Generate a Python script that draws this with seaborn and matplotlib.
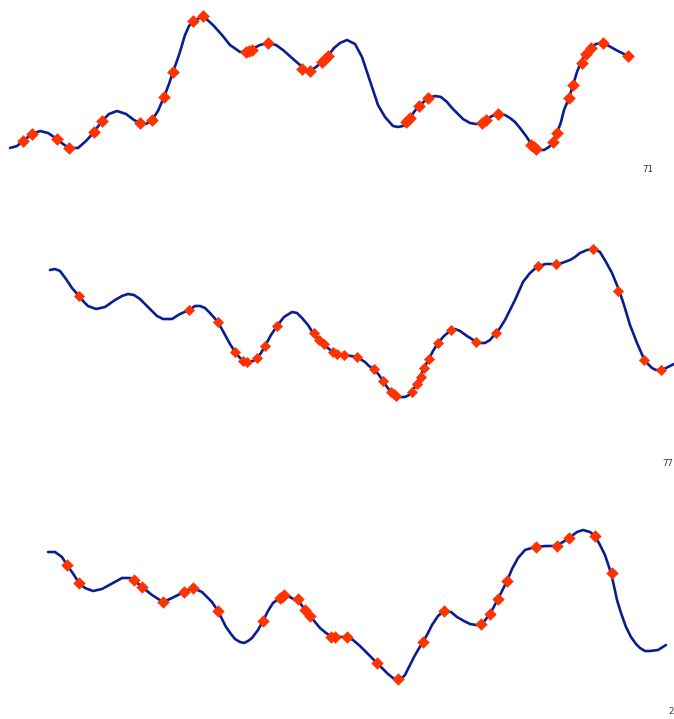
import matplotlib
matplotlib.use("Agg")
import matplotlib.pyplot as plt
import seaborn as sns
import pandas as pd

# three stacked traces (x = horizontal position,
# y = vertical position, both in pixel-like units, y grows downward)

# panel 1 (label 71)
p1_line_x = [10, 17, 23, 32, 40, 48, 57, 63, 69, 78, 86, 94, 102, 109, 117, 126, 134, 140, 146,
             152, 158, 164, 169, 173, 179, 185, 189, 194, 203, 213, 222, 230, 240, 247, 252, 260,
             268, 276, 283, 292, 300, 306, 310, 316, 322, 328, 334, 340, 347, 355, 362, 368, 373,
             378, 385, 393, 398, 403, 407, 410, 414, 419, 428, 435, 441, 447, 452, 457, 463, 470,
             476, 482, 486, 492, 498, 505, 510, 515, 520, 526, 532, 536, 540, 544, 549, 553, 557,
             561, 564, 569, 573, 577, 581, 585, 590, 596, 602, 609, 616, 622, 628]
p1_line_y = [148, 146, 141, 134, 131, 133, 139, 144, 148, 148, 141, 132, 121, 114, 111, 114, 120,
             123, 124, 120, 111, 97, 84, 72, 55, 35, 26, 21, 16, 25, 35, 45, 52, 52, 49, 45, 43, 45,
             50, 58, 65, 70, 71, 67, 62, 56, 48, 43, 40, 44, 57, 75, 90, 105, 117, 126, 127, 126,
             122, 118, 112, 106, 98, 96, 97, 102, 108, 113, 119, 123, 124, 123, 120, 116, 114, 115,
             118, 122, 128, 136, 145, 149, 150, 150, 147, 142, 133, 122, 110, 98, 85, 72, 62, 54,
             48, 44, 43, 46, 50, 53, 56]
p1_mark_x = [23, 32, 57, 69, 94, 102, 140, 152, 164, 173, 193, 203, 246, 249, 252, 268, 302, 310,
             322, 325, 328, 406, 408, 410, 419, 428, 482, 486, 498, 531, 534, 536, 553, 557, 569,
             573, 582, 586, 591, 603, 628]
p1_mark_y = [141, 134, 139, 148, 132, 121, 123, 120, 97, 72, 21, 16, 52, 51, 50, 43, 69, 71, 62,
             59, 56, 122, 120, 118, 106, 98, 123, 120, 114, 145, 147, 149, 142, 133, 98, 85, 63, 54,
             48, 43, 56]

# panel 2 (label 77)
p2_line_x = [50, 55, 60, 66, 72, 79, 84, 88, 96, 105, 115, 122, 128, 134, 140, 146, 152, 157, 163,
             172, 180, 189, 195, 200, 205, 210, 218, 224, 230, 235, 240, 244, 248, 253, 257, 261,
             265, 271, 277, 284, 292, 297, 302, 308, 313, 319, 324, 333, 337, 345, 351, 357, 365,
             369, 374, 379, 383, 387, 391, 396, 400, 405, 409, 412, 416, 420, 424, 429, 433, 438,
             444, 451, 455, 460, 467, 475, 480, 485, 490, 496, 500, 505, 510, 515, 519, 523, 530,
             538, 546, 555, 562, 570, 575, 580, 587, 594, 600, 606, 612, 619, 624, 630, 637, 644,
             648, 652, 656, 660, 664, 668, 674]
p2_line_y = [270, 269, 271, 279, 288, 296, 302, 306, 309, 307, 300, 296, 294, 295, 299, 305, 311,
             316, 319, 319, 314, 310, 306, 306, 308, 313, 322, 333, 344, 352, 358, 361, 362, 361,
             358, 353, 346, 335, 326, 317, 312, 313, 318, 325, 333, 340, 345, 352, 354, 355, 356,
             357, 362, 366, 369, 375, 381, 387, 392, 395, 397, 397, 395, 392, 385, 377, 368, 359,
             351, 343, 336, 330, 329, 331, 336, 341, 343, 343, 340, 333, 328, 320, 310, 300, 291,
             282, 273, 266, 264, 264, 263, 260, 257, 253, 250, 249, 252, 262, 273, 290, 305, 325,
             343, 359, 364, 368, 370, 370, 369, 367, 364]
p2_mark_x = [79, 189, 218, 235, 243, 247, 257, 265, 277, 314, 319, 324, 333, 337, 344, 357, 374,
             383, 391, 394, 396, 412, 417, 421, 424, 429, 438, 451, 476, 496, 538, 556, 593, 618,
             644, 661]
p2_mark_y = [296, 310, 322, 352, 361, 362, 358, 346, 326, 333, 340, 344, 352, 354, 355, 357, 369,
             381, 392, 394, 396, 392, 384, 377, 368, 359, 343, 330, 342, 333, 266, 264, 249, 291,
             360, 370]

# panel 3 (label 2)
p3_line_x = [48, 55, 62, 67, 74, 79, 85, 93, 102, 113, 122, 130, 134, 142, 152, 163, 172, 184, 193,
             202, 212, 218, 222, 226, 231, 235, 240, 244, 248, 252, 258, 263, 268, 273, 280, 284,
             290, 295, 298, 305, 310, 315, 320, 326, 331, 335, 341, 347, 353, 360, 368, 377, 383,
             388, 393, 398, 402, 405, 410, 414, 418, 423, 428, 432, 438, 444, 451, 457, 464, 470,
             476, 482, 490, 498, 507, 512, 518, 525, 535, 546, 556, 563, 569, 577, 583, 590, 595,
             600, 605, 611, 614, 617, 621, 626, 631, 636, 640, 645, 650, 658, 666]
p3_line_y = [552, 552, 557, 565, 575, 583, 588, 591, 589, 583, 578, 578, 580, 587, 595, 602, 598,
             592, 588, 592, 602, 611, 619, 627, 634, 639, 642, 643, 641, 638, 630, 621, 611, 603,
             598, 596, 597, 600, 600, 610, 616, 622, 628, 633, 636, 637, 637, 637, 640, 646, 654,
             663, 669, 674, 678, 679, 678, 675, 665, 657, 650, 642, 633, 625, 616, 611, 612, 617,
             621, 624, 625, 624, 614, 599, 581, 569, 558, 550, 547, 546, 546, 542, 538, 532, 530,
             532, 536, 545, 555, 573, 586, 600, 613, 627, 637, 644, 648, 651, 651, 650, 645]
p3_mark_x = [67, 79, 134, 142, 163, 184, 193, 218, 263, 280, 282, 284, 298, 305, 310, 331, 335,
             347, 377, 398, 423, 444, 481, 490, 498, 507, 536, 557, 569, 595, 612]
p3_mark_y = [565, 583, 580, 587, 602, 592, 588, 611, 621, 598, 597, 595, 599, 610, 616, 637, 637,
             637, 663, 679, 642, 611, 624, 614, 599, 581, 547, 546, 538, 536, 573]

panel_labels = ["71", "77", "2"]
label_x = [648, 668, 671]
label_y = [170, 463, 712]

W, H = 674, 719
panel_bands = [(0, 190), (190, 490), (490, 719)]
marker_sizes = [42, 32, 40]

line_color = "#0a1f8f"
marker_color = "#ff3300"

sns.set_theme(style="white")
fig = plt.figure(figsize=(W / 100, H / 100), dpi=100)

panels = [
    (p1_line_x, p1_line_y, p1_mark_x, p1_mark_y),
    (p2_line_x, p2_line_y, p2_mark_x, p2_mark_y),
    (p3_line_x, p3_line_y, p3_mark_x, p3_mark_y),
]

for i, (lx, ly, mx, my) in enumerate(panels):
    top, bot = panel_bands[i]
    ax = fig.add_axes([0, 1 - bot / H, 1, (bot - top) / H])
    line_df = pd.DataFrame({"x": lx, "y": ly})
    mark_df = pd.DataFrame({"x": mx, "y": my})
    sns.lineplot(data=line_df, x="x", y="y", ax=ax, color=line_color, linewidth=1.9,
                 sort=False, estimator=None)
    sns.scatterplot(data=mark_df, x="x", y="y", ax=ax, color=marker_color, marker="D",
                    s=marker_sizes[i], linewidth=0, zorder=3, clip_on=False)
    ax.text(label_x[i], label_y[i], panel_labels[i], fontsize=6.5, color="#333333",
            ha="center", va="center", family="DejaVu Sans Mono")
    ax.set_xlim(0, W)
    ax.set_ylim(bot, top)
    ax.axis("off")

fig.savefig("out.png", dpi=100)
